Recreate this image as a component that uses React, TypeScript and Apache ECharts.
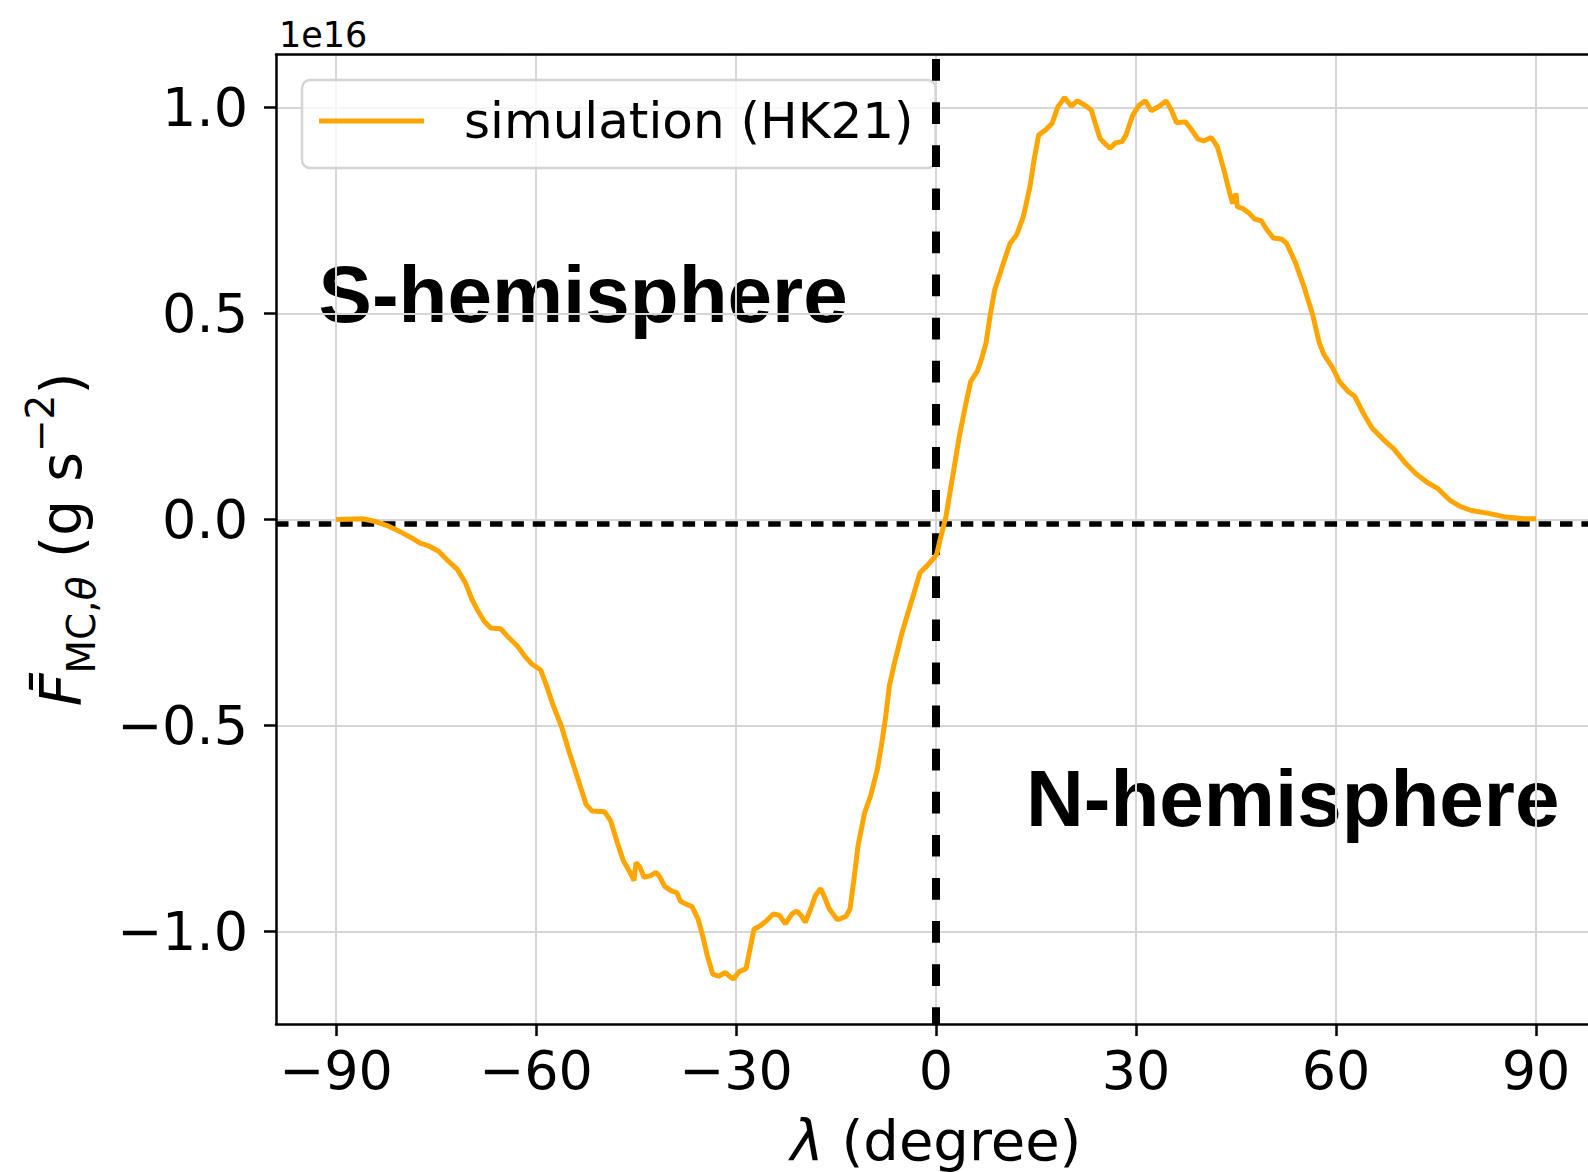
import React, { useEffect, useRef } from "react";
import * as echarts from "echarts";

// latitude λ (degree)
const latitude = [
  -90, -86, -84.3, -82.1, -80.2, -78.7, -77.4, -76.2, -74.6, -73.4, -71.8, -70.6, -69.6, -68.7, -67.8, -66.8,
  -65.3, -64.3, -62.8, -61.5, -60.6, -59.3, -58.4, -57.5, -56.2, -55.0, -53.7, -52.5, -51.6, -49.7, -48.8,
  -47.8, -46.9, -45.9, -45.3, -45.0, -44.4, -43.8, -42.8, -42.0, -41.4, -40.7, -39.7, -38.9, -38.3, -37.5,
  -36.6, -35.7, -35.0, -34.3, -33.5, -32.6, -31.6, -31.0, -30.4, -29.5, -28.5, -27.9, -27.3, -26.3, -25.4,
  -24.4, -23.5, -22.6, -21.6, -20.9, -20.2, -19.6, -18.8, -18.1, -17.3, -16.7, -16.0, -14.8, -13.5, -12.9,
  -12.3, -11.7, -10.7, -9.8, -8.8, -8.2, -7.6, -7.0, -6.1, -5.1, -4.2, -3.3, -2.4, -1.4, -0.5, 0.1, 0.6,
  1.5, 2.5, 3.5, 4.5, 5.2, 6.2, 6.8, 7.5, 8.1, 8.8, 10.1, 11.1, 12.1, 13.1, 14.1, 14.7, 15.4, 16.4, 17.4,
  18.3, 19.3, 20.3, 21.2, 22.3, 23.3, 23.9, 24.6, 25.3, 26.1, 26.9, 27.9, 28.5, 29.5, 30.5, 31.4, 32.3,
  33.5, 34.5, 35.3, 36.1, 37.4, 38.2, 39.3, 40.2, 41.3, 42.2, 43.2, 44.0, 44.5, 45.0, 45.2, 46.0, 47.0,
  47.8, 48.8, 49.6, 50.6, 51.9, 52.6, 53.9, 55.2, 56.5, 57.5, 58.2, 59.5, 60.5, 61.8, 62.8, 64.1, 65.4,
  67.1, 68.7, 70.4, 72.0, 73.7, 75.3, 77.0, 78.6, 80.3, 82.9, 85.5, 88.2, 90,
];

// F̄_MC,θ in units of 1e16 g s^-2
const fluxMC = [
  0.0, 0.002, -0.004, -0.016, -0.031, -0.044, -0.057, -0.063, -0.077, -0.097, -0.121, -0.153, -0.194, -0.222,
  -0.246, -0.263, -0.265, -0.283, -0.307, -0.335, -0.351, -0.365, -0.404, -0.448, -0.501, -0.565, -0.63,
  -0.691, -0.707, -0.709, -0.731, -0.784, -0.828, -0.856, -0.876, -0.832, -0.844, -0.868, -0.864, -0.856,
  -0.868, -0.89, -0.901, -0.905, -0.927, -0.933, -0.939, -0.969, -1.01, -1.058, -1.103, -1.108, -1.099,
  -1.108, -1.115, -1.097, -1.09, -1.042, -0.994, -0.985, -0.973, -0.957, -0.96, -0.981, -0.957, -0.95,
  -0.961, -0.977, -0.945, -0.913, -0.895, -0.917, -0.945, -0.971, -0.963, -0.945, -0.872, -0.792, -0.711,
  -0.67, -0.606, -0.549, -0.485, -0.404, -0.339, -0.275, -0.226, -0.178, -0.129, -0.113, -0.097, -0.085,
  -0.05, 0.008, 0.105, 0.202, 0.283, 0.335, 0.36, 0.388, 0.428, 0.493, 0.557, 0.622, 0.67, 0.691, 0.735,
  0.808, 0.872, 0.933, 0.945, 0.961, 1.002, 1.024, 1.003, 1.016, 1.006, 0.994, 0.961, 0.925, 0.913, 0.901,
  0.914, 0.917, 0.933, 0.981, 1.006, 1.016, 0.992, 1.003, 1.016, 0.994, 0.963, 0.965, 0.949, 0.923, 0.919,
  0.927, 0.905, 0.848, 0.796, 0.767, 0.791, 0.759, 0.755, 0.743, 0.729, 0.725, 0.704, 0.683, 0.68, 0.67,
  0.624, 0.565, 0.497, 0.428, 0.4, 0.368, 0.335, 0.311, 0.299, 0.258, 0.222, 0.194, 0.171, 0.137, 0.111,
  0.09, 0.075, 0.048, 0.032, 0.022, 0.015, 0.006, 0.002, 0.002,
];

const xTicks = [-90, -60, -30, 0, 30, 60, 90];
const yTicks = [-1.0, -0.5, 0.0, 0.5, 1.0];
const xLimits = [-99, 99];
const yLimits = [-1.224, 1.128];
const hemisphereDividerX = 0;
const zeroLineY = -0.01;
const seriesName = "simulation (HK21)";
const offsetText = "1e16";
const southLabel = "S-hemisphere";
const northLabel = "N-hemisphere";

const MINUS = "\u2212";
const fmtX = (v: number) => (v < 0 ? MINUS + Math.abs(v) : String(v));
const fmtY = (v: number) => (v < 0 ? MINUS + Math.abs(v).toFixed(1) : Math.abs(v).toFixed(1));

const FONT = "DejaVu Sans";

export default function App() {
  const ref = useRef<HTMLDivElement>(null);
  useEffect(() => {
    if (!ref.current) return;
    const chart = echarts.init(ref.current, undefined, { renderer: "svg" });
    const data = latitude.map((x, i) => [x, fluxMC[i]]);
    const spine = { show: true, onZero: false, lineStyle: { color: "#000", width: 2.5 } };
    chart.setOption({
      animation: false,
      backgroundColor: "#ffffff",
      textStyle: { fontFamily: FONT },
      grid: { left: 276, top: 54.7, width: 1320, height: 969.3, containLabel: false, outerBoundsMode: "none" },
      legend: {
        show: true,
        data: [seriesName],
        left: 302,
        top: 80,
        icon: "rect",
        itemWidth: 105,
        itemHeight: 5,
        padding: [13, 22, 19, 17],
        backgroundColor: "rgba(255,255,255,0.8)",
        borderColor: "#d4d4d4",
        borderWidth: 2.5,
        borderRadius: 8,
        z: 3,
        textStyle: { fontSize: 50, color: "#000", fontFamily: FONT, lineHeight: 56, padding: [0, 0, 0, 35] },
      },
      xAxis: [
        {
          type: "value",
          min: xLimits[0],
          max: xLimits[1],
          position: "bottom",
          axisLine: spine,
          axisTick: { show: true, inside: false, length: 12, customValues: xTicks, lineStyle: { color: "#000", width: 2.5 } },
          axisLabel: { customValues: xTicks, formatter: fmtX, fontSize: 54, color: "#000", margin: 19, fontFamily: FONT },
          splitLine: { show: true, lineStyle: { color: "#d6d6d6", width: 2 } },
          name: "{i|λ} (degree)",
          nameLocation: "middle",
          nameGap: 86,
          nameTextStyle: {
            fontSize: 56,
            lineHeight: 60,
            color: "#000",
            fontFamily: FONT,
            rich: { i: { fontStyle: "italic", fontSize: 56, lineHeight: 60, fontFamily: FONT, color: "#000" } },
          },
        },
        {
          type: "value",
          min: xLimits[0],
          max: xLimits[1],
          position: "top",
          axisLine: spine,
          axisTick: { show: false },
          axisLabel: { show: false },
          splitLine: { show: false },
        },
      ],
      yAxis: {
        type: "value",
        min: yLimits[0],
        max: yLimits[1],
        position: "left",
        axisLine: spine,
        axisTick: { show: true, inside: false, length: 12, customValues: yTicks, lineStyle: { color: "#000", width: 2.5 } },
        axisLabel: { customValues: yTicks, formatter: fmtY, fontSize: 54, color: "#000", margin: 28, fontFamily: FONT },
        splitLine: { show: true, lineStyle: { color: "#d6d6d6", width: 2 } },
        name: "{f|F\u0304}{s|MC,}{st|θ}{m| (g s}{p|−2}{m|)}",
        nameLocation: "middle",
        nameGap: 175,
        nameTextStyle: {
          fontSize: 56,
          color: "#000",
          fontFamily: FONT,
          lineHeight: 80,
          rich: {
            f: { fontStyle: "italic", fontSize: 57, lineHeight: 80, fontFamily: FONT, color: "#000" },
            m: { fontSize: 57, lineHeight: 80, fontFamily: FONT, color: "#000" },
            s: { fontSize: 39, lineHeight: 38, verticalAlign: "bottom", fontFamily: FONT, color: "#000" },
            st: { fontSize: 39, lineHeight: 38, verticalAlign: "bottom", fontStyle: "italic", fontFamily: FONT, color: "#000" },
            p: { fontSize: 39, lineHeight: 60, verticalAlign: "top", fontFamily: FONT, color: "#000" },
          },
        },
      },
      series: [
        {
          name: seriesName,
          type: "line",
          xAxisIndex: 0,
          data,
          symbol: "none",
          z: 5,
          color: "#FFA500",
          lineStyle: { color: "#FFA500", width: 5 },
          emphasis: { disabled: true },
          markLine: {
            silent: true,
            symbol: ["none", "none"],
            label: { show: false },
            emphasis: { disabled: true },
            data: [
              { xAxis: hemisphereDividerX, lineStyle: { color: "#000", width: 8, type: [21.7, 21.4], dashOffset: 5 } },
              { yAxis: zeroLineY, lineStyle: { color: "#000", width: 5.5, type: [12.5, 8.9] } },
            ],
          },
        },
      ],
      graphic: [
        {
          type: "text",
          left: 279,
          top: 17,
          style: { text: offsetText, fontSize: 35, fontFamily: FONT, fill: "#000" },
        },
        {
          type: "text",
          x: 318.6,
          y: 294.3,
          style: {
            text: southLabel,
            fontSize: 80,
            fontWeight: "bold",
            fontFamily: "Liberation Sans",
            fill: "#000",
            verticalAlign: "middle",
            align: "left",
          },
        },
        {
          type: "text",
          x: 1026,
          y: 798.3,
          style: {
            text: northLabel,
            fontSize: 80,
            fontWeight: "bold",
            fontFamily: "Liberation Sans",
            fill: "#000",
            verticalAlign: "middle",
            align: "left",
          },
        },
      ],
    });
    return () => chart.dispose();
  }, []);
  return <div ref={ref} style={{ position: "fixed", left: 0, top: 0, width: 1588, height: 1172 }} />;
}
